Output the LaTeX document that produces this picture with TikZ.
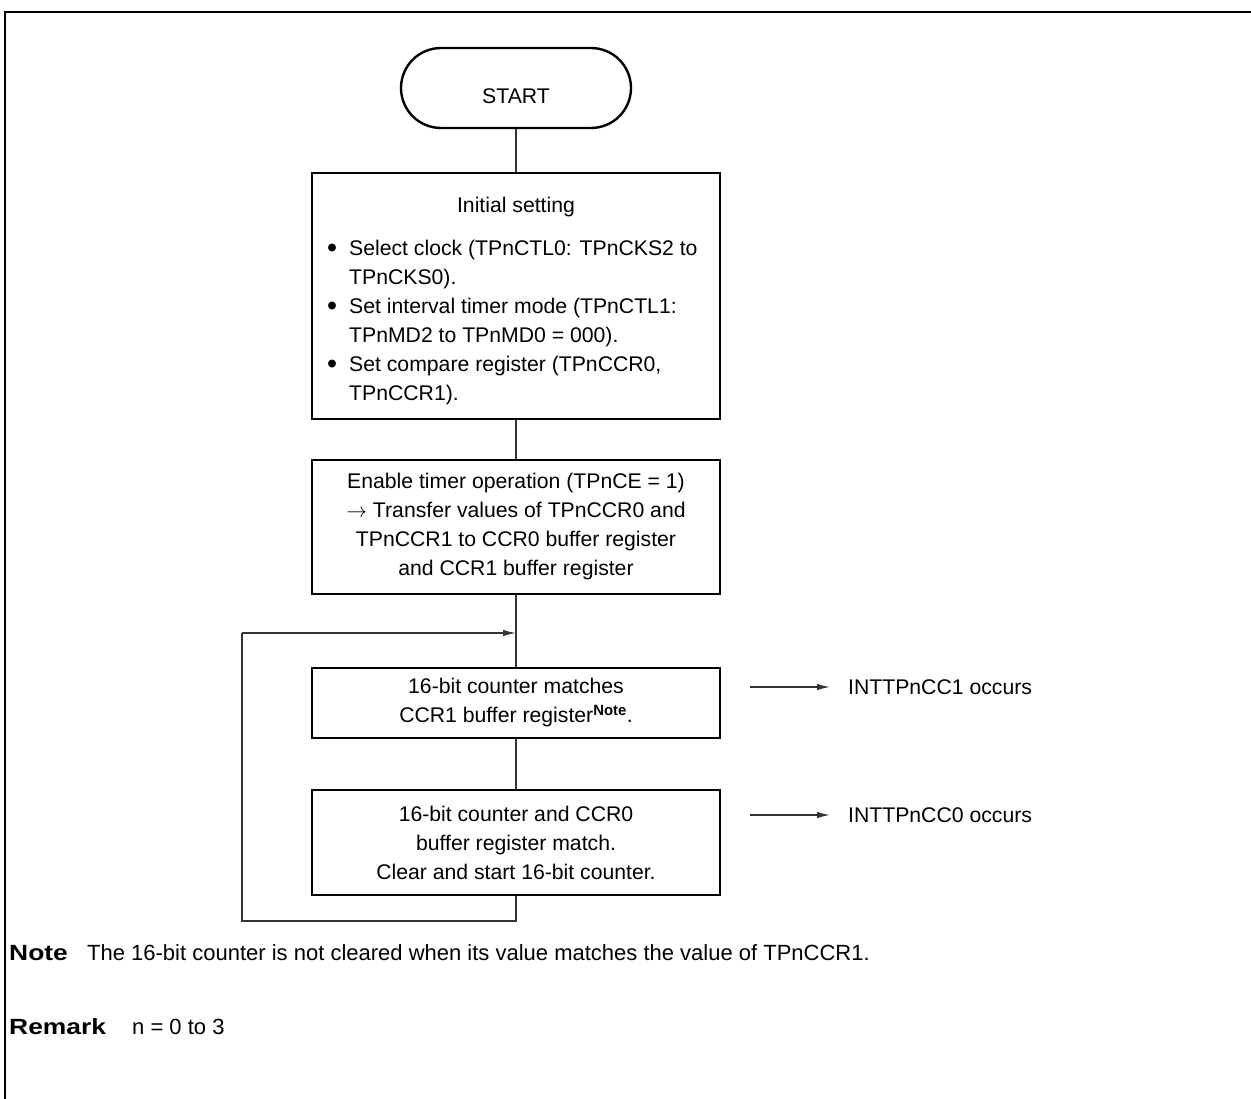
\documentclass[tikz,border=0pt]{standalone}
\usepackage{fontspec}
\setmainfont{Liberation Sans}
\usetikzlibrary{arrows.meta}
\newcommand{\bigbul}{\raisebox{-0.1em}{\scalebox{1.35}{\textbullet}}}
\begin{document}
\begin{tikzpicture}[x=1pt,y=-1pt,
  every node/.style={font=\fontsize{21.2}{29}\selectfont, inner sep=0pt},
  box/.style={draw=black, line width=2.8pt, minimum width=408pt, align=center},
  term/.style={draw=black, line width=2.4pt, rounded corners=40pt, minimum width=230pt, minimum height=80pt},
  conn/.style={draw=black!80, line width=1.3pt},
  arr/.style={conn, -{Latex[length=13pt,width=6.5pt]}},
  notefont/.style={font=\fontsize{22}{26}\selectfont}]
\useasboundingbox (0,0) rectangle (1251,1099);
\draw[line width=2.5pt] (1251,12) -- (5,12) -- (5,1099);

\node[term] (start) at (516,88) {};
\node (starttext) at (516,96) {START};
\node[box, minimum height=246pt] (init) at (516,296) {};
\node[anchor=base] (inittitle) at (516,213) {Initial setting};
\node[anchor=north west, align=left] (initlist) at (327,240) {%
\makebox[22pt][l]{\bigbul}Select clock (TPnCTL0: TPnCKS2 to\\
\hspace*{22pt}TPnCKS0).\\
\makebox[22pt][l]{\bigbul}Set interval timer mode (TPnCTL1:\\
\hspace*{22pt}TPnMD2 to TPnMD0 = 000).\\
\makebox[22pt][l]{\bigbul}Set compare register (TPnCCR0,\\
\hspace*{22pt}TPnCCR1).};
\node[box, minimum height=134pt] (enable) at (516,527) {Enable timer operation (TPnCE = 1)\\$\rightarrow$ Transfer values of TPnCCR0 and\\TPnCCR1 to CCR0 buffer register\\and CCR1 buffer register};
\node[box, minimum height=70pt] (match1) at (516,703) {16-bit counter matches\\CCR1 buffer register\textsuperscript{\bfseries Note}.};
\node[box, minimum height=105pt] (match0) at (516,842.5) {16-bit counter and CCR0\\buffer register match.\\Clear and start 16-bit counter.};

\coordinate (lb) at (516,921);
\coordinate (ll) at (242,921);
\coordinate (lt) at (242,633);
\coordinate (lj) at (516,633);

\draw[conn] (start) -- (init);
\draw[conn] (init) -- (enable);
\draw[conn] (enable) -- (match1);
\draw[conn] (match1) -- (match0);
\draw[conn] (match0.south) -- (lb) -- (ll) -- (lt);
\draw[arr] (lt) -- (lj);

\node[anchor=west] (int1) at (848,687) {INTTPnCC1 occurs};
\node[anchor=west] (int0) at (848,815) {INTTPnCC0 occurs};
\coordinate (a1s) at (750,687);
\coordinate (a0s) at (750,815);
\draw[arr] (a1s) -- ([xshift=-18pt]int1.west);
\draw[arr] (a0s) -- ([xshift=-18pt]int0.west);

\node[anchor=west, notefont] (note) at (9,953) {\makebox[78pt][l]{\scalebox{1.2}[1]{\bfseries Note}}The 16-bit counter is not cleared when its value matches the value of TPnCCR1.};
\node[anchor=west, notefont] (remark) at (9,1027) {\makebox[123pt][l]{\scalebox{1.2}[1]{\bfseries Remark}}n = 0 to 3};
\end{tikzpicture}
\end{document}
